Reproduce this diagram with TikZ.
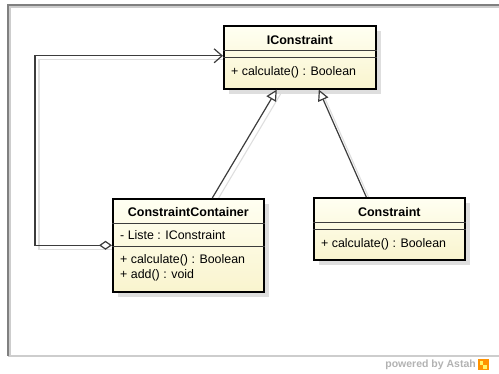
\documentclass[tikz,border=0pt]{standalone}
\usepackage{fontspec}
\setmainfont{Liberation Sans}
\usetikzlibrary{arrows.meta,shadows,backgrounds}

\definecolor{boxtop}{RGB}{255,255,242}
\definecolor{boxbot}{RGB}{249,244,206}
\definecolor{linedark}{RGB}{60,60,60}
\definecolor{lineshade}{RGB}{222,222,222}
\definecolor{framedark}{RGB}{128,128,128}
\definecolor{framelight}{RGB}{205,205,205}
\definecolor{footgray}{RGB}{178,178,178}

\tikzset{
  classbox/.style={draw=black, line width=1.6pt, top color=boxtop, bottom color=boxbot,
    anchor=north west, inner sep=0pt,
    drop shadow={shadow xshift=5pt, shadow yshift=-5pt, fill=lineshade, opacity=1}},
  sepline/.style={draw=linedark, line width=0.8pt},
  classtitle/.style={font=\bfseries\fontsize{12.5}{14}\selectfont, inner sep=0pt},
  member/.style={font=\fontsize{12.4}{14}\selectfont, inner sep=0pt, anchor=west},
  connector/.style={draw=linedark, line width=1.2pt},
  connshade/.style={draw=lineshade, line width=1.1pt, transform canvas={xshift=4pt, yshift=-4pt}},
  generalize/.style={connector, -{Triangle[length=11pt, width=11pt, fill=white]}},
  aggregate/.style={connector, {Diamond[length=13pt, width=9pt, fill=white]}-{Straight Barb[length=8pt, width=14pt]}},
  footer/.style={font=\bfseries\fontsize{10.5}{12}\selectfont, text=footgray, inner sep=0pt}
}

\begin{document}
\begin{tikzpicture}[x=1pt, y=-1pt]
  \useasboundingbox (0,0) rectangle (499,374);

  % diagram frame
  \draw[framelight, line width=1.2pt] (10,356) -- (10,7) -- (505,7);
  \draw[framelight, line width=1.2pt] (8,356) -- (505,356);
  \draw[framedark, line width=1.4pt] (8,356) -- (8,5) -- (505,5);

  % class IConstraint
  \node[classbox, minimum width=152pt, minimum height=63pt] (ic) at (223,25) {};
  \draw[sepline] ([yshift=-25pt]ic.north west) -- ([yshift=-25pt]ic.north east);
  \draw[sepline] ([yshift=-32pt]ic.north west) -- ([yshift=-32pt]ic.north east);
  \node[classtitle] (ictitle) at ([yshift=-15pt]ic.north) {IConstraint};
  \node[member] (icop) at ([xshift=8pt, yshift=-47pt]ic.north west) {+ calculate() : Boolean};

  % class ConstraintContainer
  \node[classbox, minimum width=151pt, minimum height=93pt] (cc) at (112,198) {};
  \draw[sepline] ([yshift=-25pt]cc.north west) -- ([yshift=-25pt]cc.north east);
  \draw[sepline] ([yshift=-48pt]cc.north west) -- ([yshift=-48pt]cc.north east);
  \node[classtitle] (cctitle) at ([yshift=-14pt]cc.north) {ConstraintContainer};
  \node[member] (ccattr) at ([xshift=8pt, yshift=-37pt]cc.north west) {- Liste : IConstraint};
  \node[member] (ccop1) at ([xshift=8pt, yshift=-62pt]cc.north west) {+ calculate() : Boolean};
  \node[member] (ccop2) at ([xshift=8pt, yshift=-77pt]cc.north west) {+ add() : void};

  % class Constraint
  \node[classbox, minimum width=151pt, minimum height=62pt] (c) at (313,197) {};
  \draw[sepline] ([yshift=-25pt]c.north west) -- ([yshift=-25pt]c.north east);
  \draw[sepline] ([yshift=-32pt]c.north west) -- ([yshift=-32pt]c.north east);
  \node[classtitle] (ctitle) at ([yshift=-15pt]c.north) {Constraint};
  \node[member] (cop) at ([xshift=8pt, yshift=-47pt]c.north west) {+ calculate() : Boolean};

  % connector shadows, behind the classes
  \begin{scope}[on background layer]
    \draw[connshade] ([xshift=24pt]cc.north) -- ([xshift=-23pt]ic.south);
    \draw[connshade] ([xshift=-23pt]c.north) -- ([xshift=19pt]ic.south);
    \draw[connshade] (cc.west) -- ++(-77,0) |- ([yshift=1.5pt]ic.west);
  \end{scope}

  % generalizations
  \draw[generalize] ([xshift=24pt]cc.north) -- ([xshift=-23pt]ic.south);
  \draw[generalize] ([xshift=-23pt]c.north) -- ([xshift=19pt]ic.south);

  % aggregation ConstraintContainer -> IConstraint
  \draw[aggregate] (cc.west) -- ++(-77,0) |- ([yshift=1.5pt]ic.west);

  % footer
  \node[footer, anchor=east] (powered) at (476,365) {powered by Astah};
  \node[anchor=west, minimum size=11pt, inner sep=0pt, fill=orange!85!yellow] (logo) at ([xshift=1.5pt]powered.east) {};
  \fill[yellow!60!white] ([xshift=2pt, yshift=-2pt]logo.north west) rectangle ([xshift=-5.5pt, yshift=5.5pt]logo.south east);
  \fill[yellow!60!white] ([xshift=-2pt, yshift=2pt]logo.south east) rectangle ([xshift=5.5pt, yshift=-5.5pt]logo.north west);
\end{tikzpicture}
\end{document}
